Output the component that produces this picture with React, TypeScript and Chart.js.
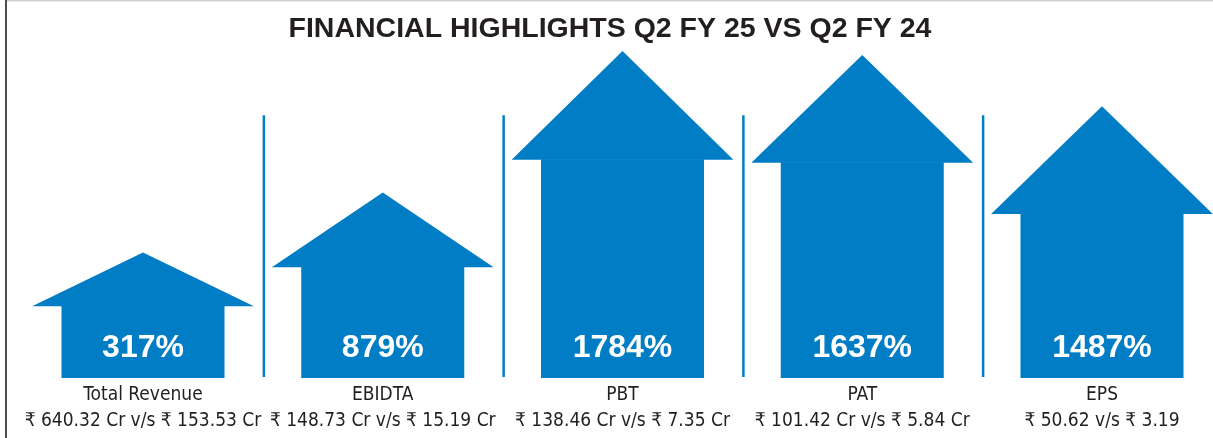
import React, { useEffect, useRef } from "react";
import { Chart, registerables } from "chart.js";

Chart.register(...registerables);

const chartTitle = "FINANCIAL HIGHLIGHTS Q2 FY 25 VS Q2 FY 24";
const categories = ["Total Revenue", "EBIDTA", "PBT", "PAT", "EPS"];
const growthPct = [317, 879, 1784, 1637, 1487];
const currentValues = ["₹ 640.32 Cr", "₹ 148.73 Cr", "₹ 138.46 Cr", "₹ 101.42 Cr", "₹ 50.62"];
const previousValues = ["₹ 153.53 Cr", "₹ 15.19 Cr", "₹ 7.35 Cr", "₹ 5.84 Cr", "₹ 3.19"];
// infographic arrow sizes (visual units)
const arrowShaft = [72, 111, 218, 215, 164];
const arrowTip = [125, 185, 326, 322, 271];
const dividerTop = 262;

const BLUE = "#007dc4";
const INK = "#231f20";
const NARROW = "'Liberation Sans Narrow', 'DejaVu Sans Condensed', 'Liberation Sans', sans-serif";
const SANS = "'Liberation Sans', Arial, sans-serif";

const arrowPlugin = {
  id: "arrowHeads",
  beforeDraw(chart: any) {
    const { ctx, width, height } = chart;
    ctx.save();
    ctx.fillStyle = "#ffffff";
    ctx.fillRect(0, 0, width, height);
    ctx.fillStyle = "#d0d0d0";
    ctx.fillRect(6, 0, width - 6, 1.5);
    ctx.fillStyle = "#4d4d4d";
    ctx.fillRect(5, 0, 2, height);
    ctx.restore();
  },
  afterDatasetsDraw(chart: any) {
    const { ctx } = chart;
    const xs = chart.scales.x;
    const ys = chart.scales.y;
    const meta = chart.getDatasetMeta(0);
    ctx.save();
    ctx.strokeStyle = BLUE;
    ctx.lineWidth = 2.5;
    for (let i = 0; i < categories.length - 1; i++) {
      const px = (xs.getPixelForValue(i) + xs.getPixelForValue(i + 1)) / 2 + 1;
      ctx.beginPath();
      ctx.moveTo(px, ys.getPixelForValue(dividerTop));
      ctx.lineTo(px, ys.getPixelForValue(0) - 1);
      ctx.stroke();
    }
    meta.data.forEach((bar: any, i: number) => {
      const { x, width } = bar.getProps(["x", "width"], true);
      const hw = (width * 1.36) / 2;
      const base = ys.getPixelForValue(arrowShaft[i]);
      const tip = ys.getPixelForValue(arrowTip[i]);
      ctx.fillStyle = BLUE;
      ctx.beginPath();
      ctx.moveTo(x - hw, base + 0.5);
      ctx.lineTo(x, tip);
      ctx.lineTo(x + hw, base + 0.5);
      ctx.closePath();
      ctx.fill();
      ctx.fillStyle = "#ffffff";
      ctx.font = `bold 32px ${SANS}`;
      ctx.textAlign = "center";
      ctx.textBaseline = "middle";
      ctx.fillText(`${growthPct[i]}%`, x, ys.getPixelForValue(0) - 30);
    });
    ctx.fillStyle = INK;
    ctx.font = `bold 28.5px ${SANS}`;
    ctx.textAlign = "center";
    ctx.textBaseline = "middle";
    ctx.fillText(chartTitle, 610, 29);
    ctx.restore();
  },
};

export default function App() {
  const ref = useRef<HTMLCanvasElement | null>(null);
  useEffect(() => {
    document.body.style.margin = "0";
    if (!ref.current) return;
    const chart = new Chart(ref.current, {
      type: "bar",
      data: {
        labels: categories,
        datasets: [
          {
            data: arrowShaft,
            backgroundColor: BLUE,
            borderWidth: 0,
            categoryPercentage: 1,
            barPercentage: 0.68,
            clip: false as any,
          },
        ],
      },
      options: {
        responsive: false,
        animation: false,
        events: [],
        layout: { padding: { left: 143, right: 111, top: 47, bottom: 0 } },
        plugins: { legend: { display: false }, tooltip: { enabled: false }, title: { display: false } },
        scales: {
          x: {
            offset: false,
            grid: { display: false, drawTicks: false },
            border: { display: false },
            ticks: {
              autoSkip: false,
              maxRotation: 0,
              padding: 4,
              color: INK,
              font: { family: NARROW, size: 19, lineHeight: "26px" },
              callback: (_v: any, i: number) => [categories[i], `${currentValues[i]} v/s ${previousValues[i]}`],
            },
          },
          y: { display: false, min: 0, max: 330 },
        },
      },
      plugins: [arrowPlugin],
    });
    return () => chart.destroy();
  }, []);
  return (
    <div style={{ width: 1213, height: 438 }}>
      <canvas ref={ref} width={1213} height={438} style={{ display: "block" }} />
    </div>
  );
}
